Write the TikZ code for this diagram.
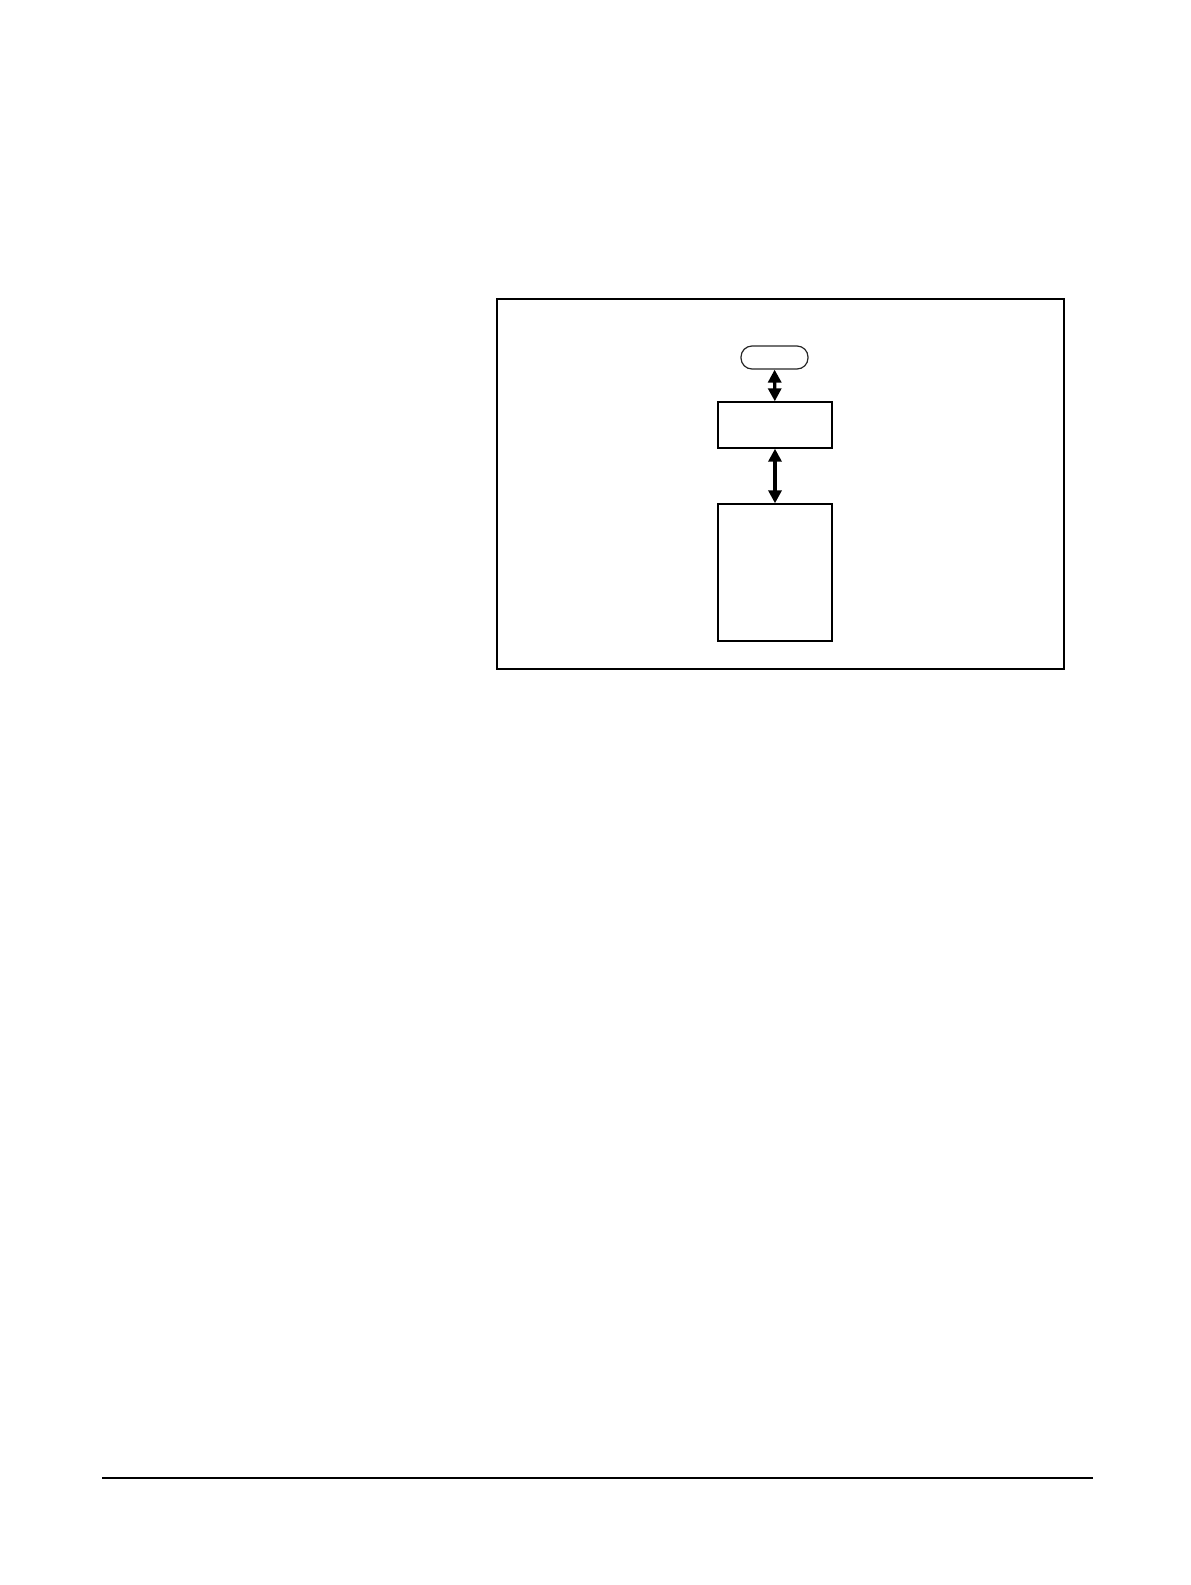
\documentclass[tikz,border=0pt]{standalone}
\usetikzlibrary{arrows.meta}

\begin{document}
\begin{tikzpicture}[x=1pt,y=-1pt,
	blk/.style={draw,line width=1.4pt,minimum width=114pt,inner sep=0pt},
	pill/.style={draw=black!85,line width=1.2pt,rounded corners=11pt,minimum width=67pt,minimum height=23pt,inner sep=0pt},
	dbl/.style={{Triangle[length=13pt,width=13pt]}-{Triangle[length=13pt,width=13pt]},line width=3.4pt}]
				\useasboundingbox (0,0) rectangle (1191,1585);
				\draw[line width=1.7pt] (497,299) rectangle (1064,669);
				\node[pill] (term) at (774.5,357.5) {};
				\node[blk,minimum height=46pt] (upper) at (775,425) {};
				\node[blk,minimum height=137pt] (lower) at (775,572.5) {};
				\draw[dbl] (term) to (upper);
				\draw[dbl] (upper) to (lower);
				\coordinate (rulel) at (102,1478);
				\coordinate (ruler) at (1093,1478);
				\draw[line width=1.6pt] (rulel) -- (ruler);
			\end{tikzpicture}
\end{document}
